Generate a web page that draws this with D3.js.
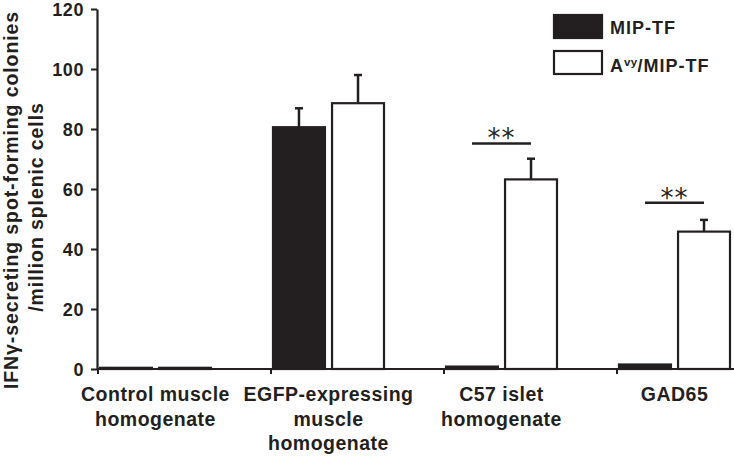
<!DOCTYPE html>
<html>
<head>
<meta charset="utf-8">
<script src="https://cdn.jsdelivr.net/npm/d3@7"></script>
<style>
  body { margin: 0; background: #fff; }
  text { font-family: "Liberation Sans", Arial, sans-serif; fill: #231f20; }
</style>
</head>
<body>
<div id="chart"></div>
<script>
// data
const categories = ["Control", "EGFP", "C57", "GAD65"];
const categoryLabels = [
  ["Control muscle", "homogenate"],
  ["EGFP-expressing", "muscle", "homogenate"],
  ["C57 islet", "homogenate"],
  ["GAD65"]
];
const seriesNames = ["MIP-TF", "Avy/MIP-TF"];
const mipTF = [0.4, 80.6, 0.8, 1.5];
const mipTFErr = [0, 6.3, 0, 0];
const avyMipTF = [0.4, 88.6, 63.2, 45.8];
const avyMipTFErr = [0, 9.4, 6.9, 3.9];
const sigLabels = [null, null, "**", "**"];
const sigLevels = [null, null, 75.2, 55.4];
const yTicks = [0, 20, 40, 60, 80, 100, 120];

const width = 734, height = 456;
const ink = "#231f20";

const svg = d3.select("#chart").append("svg")
  .attr("width", width)
  .attr("height", height);

const y = d3.scaleLinear().domain([0, 120]).range([369, 9]);
const x = d3.scaleBand().domain(categories).range([97, 97 + 173 * 4]).padding(0);
const xs = d3.scaleBand().domain(seriesNames).range([3, 114]).paddingInner(0.12);

// rows: one per bar
const rows = [];
categories.forEach((c, i) => {
  rows.push({ cat: c, s: seriesNames[0], v: mipTF[i], e: mipTFErr[i] });
  rows.push({ cat: c, s: seriesNames[1], v: avyMipTF[i], e: avyMipTFErr[i] });
});

// bars
svg.selectAll(".bar")
  .data(rows)
  .join("rect")
  .attr("class", "bar")
  .attr("x", d => x(d.cat) + xs(d.s))
  .attr("width", xs.bandwidth())
  .attr("y", d => y(d.v))
  .attr("height", d => y(0) - y(d.v))
  .attr("fill", d => d.s === seriesNames[0] ? ink : "#fff")
  .attr("stroke", ink)
  .attr("stroke-width", 2.2);

// error bars (upper only)
const errRows = rows.filter(d => d.e > 0);
svg.selectAll(".err")
  .data(errRows)
  .join("line")
  .attr("class", "err")
  .attr("x1", d => x(d.cat) + xs(d.s) + xs.bandwidth() / 2)
  .attr("x2", d => x(d.cat) + xs(d.s) + xs.bandwidth() / 2)
  .attr("y1", d => y(d.v))
  .attr("y2", d => y(d.v + d.e))
  .attr("stroke", ink)
  .attr("stroke-width", 2.5);
svg.selectAll(".cap")
  .data(errRows)
  .join("line")
  .attr("class", "cap")
  .attr("x1", d => x(d.cat) + xs(d.s) + xs.bandwidth() / 2 - 4)
  .attr("x2", d => x(d.cat) + xs(d.s) + xs.bandwidth() / 2 + 4)
  .attr("y1", d => y(d.v + d.e))
  .attr("y2", d => y(d.v + d.e))
  .attr("stroke", ink)
  .attr("stroke-width", 2.5);

// significance marks
const sigData = categories.map((c, i) => ({ cat: c, label: sigLabels[i], level: sigLevels[i] }))
  .filter(d => d.label);
const mid0 = xs(seriesNames[0]) + xs.bandwidth() / 2;
const mid1 = xs(seriesNames[1]) + xs.bandwidth() / 2;
svg.selectAll(".sig")
  .data(sigData)
  .join("line")
  .attr("class", "sig")
  .attr("x1", d => x(d.cat) + mid0)
  .attr("x2", d => x(d.cat) + mid1)
  .attr("y1", d => y(d.level))
  .attr("y2", d => y(d.level))
  .attr("stroke", ink)
  .attr("stroke-width", 2.5);
svg.selectAll(".stars")
  .data(sigData)
  .join("text")
  .attr("class", "stars")
  .attr("x", d => x(d.cat) + (mid0 + mid1) / 2)
  .attr("y", d => y(d.level) + 4)
  .attr("text-anchor", "middle")
  .style("font-family", "'DejaVu Sans', sans-serif")
  .style("font-size", "26px")
  .style("letter-spacing", "1px")
  .text(d => d.label);

// y axis
const yAxis = svg.append("g")
  .attr("transform", "translate(97,0)")
  .call(d3.axisLeft(y).tickValues(yTicks).tickSize(6).tickPadding(7).tickSizeOuter(0));
yAxis.select(".domain").attr("stroke", ink).attr("stroke-width", 2.2);
yAxis.selectAll(".tick line").attr("stroke", ink).attr("stroke-width", 2);
yAxis.selectAll(".tick text")
  .attr("fill", ink)
  .style("font-size", "18px")
  .style("font-weight", "bold")
  .style("letter-spacing", "0.6px")
  .attr("dy", "0.35em");

// x axis
svg.append("line")
  .attr("x1", 97).attr("x2", width)
  .attr("y1", y(0)).attr("y2", y(0))
  .attr("stroke", ink).attr("stroke-width", 2.2);
svg.selectAll(".xtick")
  .data(categories)
  .join("line")
  .attr("class", "xtick")
  .attr("x1", d => x(d) + 1).attr("x2", d => x(d) + 1)
  .attr("y1", y(0)).attr("y2", y(0) + 5)
  .attr("stroke", ink).attr("stroke-width", 2);

const xLabels = svg.selectAll(".xlabel")
  .data(categories)
  .join("text")
  .attr("class", "xlabel")
  .attr("text-anchor", "middle")
  .style("font-size", "19.5px")
  .style("font-weight", "bold")
  .style("letter-spacing", "0.5px");
xLabels.each(function (d, i) {
  const cx = x(d) + (xs(seriesNames[0]) + xs(seriesNames[1]) + xs.bandwidth()) / 2;
  d3.select(this).selectAll("tspan")
    .data(categoryLabels[i])
    .join("tspan")
    .attr("x", cx)
    .attr("y", (t, j) => 401 + j * 24.5)
    .text(t => t);
});

// y axis title
const yTitle = svg.append("text")
  .attr("transform", "translate(18,200) rotate(-90)")
  .attr("text-anchor", "middle")
  .style("font-size", "19.5px")
  .style("font-weight", "bold")
  .style("letter-spacing", "0.9px");
yTitle.append("tspan").attr("x", 0).attr("y", 0).text("IFNγ-secreting spot-forming colonies");
yTitle.append("tspan").attr("x", -7).attr("y", 25).text("/million splenic cells");

// legend
const legend = svg.append("g").attr("transform", "translate(553,15)");
const legItems = legend.selectAll("g")
  .data(seriesNames)
  .join("g")
  .attr("transform", (d, i) => `translate(0,${i * 35})`);
legItems.append("rect")
  .attr("x", 1).attr("y", (d, i) => i)
  .attr("width", 48).attr("height", 23)
  .attr("fill", (d, i) => i === 0 ? ink : "#fff")
  .attr("stroke", ink).attr("stroke-width", 2.2);
legItems.append("text")
  .attr("x", 57)
  .attr("y", (d, i) => 19 + i * 3)
  .style("font-size", "18px")
  .style("font-weight", "bold")
  .style("letter-spacing", "1px")
  .each(function (d, i) {
    const t = d3.select(this);
    if (i === 0) {
      t.text(d);
    } else {
      t.append("tspan").text("A");
      t.append("tspan").attr("dy", -6).style("font-size", "11.5px").style("letter-spacing", "0.3px").text("vy");
      t.append("tspan").attr("dy", 6).text("/MIP-TF");
    }
  });
</script>
</body>
</html>
